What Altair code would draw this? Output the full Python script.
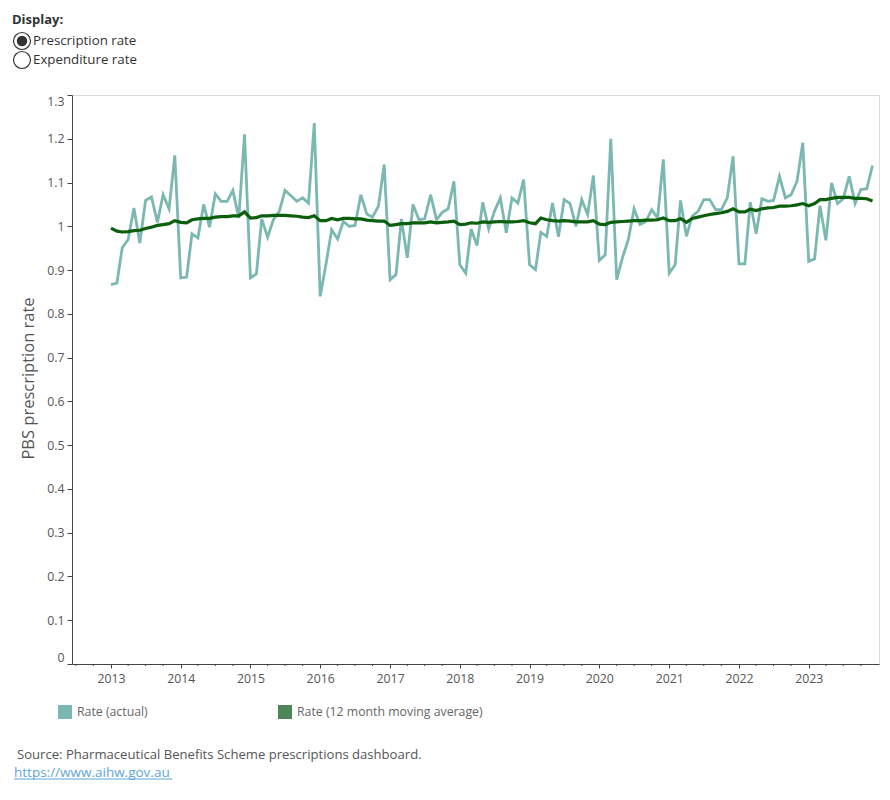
import altair as alt
import pandas as pd

# ---------------- data ----------------
years = list(range(2013, 2024))
months = [f"{y}-{m:02d}-01T00:00:00" for y in years for m in range(1, 13)]

rate_actual = [
    # 2013
    0.867, 0.870, 0.951, 0.970, 1.042, 0.962, 1.059, 1.067, 1.009, 1.072, 1.040, 1.162,
    # 2014
    0.882, 0.884, 0.983, 0.973, 1.050, 0.998, 1.074, 1.057, 1.057, 1.082, 1.019, 1.210,
    # 2015
    0.882, 0.891, 1.017, 0.975, 1.015, 1.034, 1.082, 1.070, 1.057, 1.065, 1.053, 1.236,
    # 2016
    0.840, 0.915, 0.992, 0.971, 1.011, 1.000, 1.002, 1.072, 1.028, 1.021, 1.046, 1.141,
    # 2017
    0.878, 0.890, 1.017, 0.928, 1.050, 1.015, 1.017, 1.072, 1.015, 1.032, 1.040, 1.103,
    # 2018
    0.912, 0.893, 0.994, 0.956, 1.055, 0.994, 1.034, 1.065, 0.985, 1.065, 1.053, 1.107,
    # 2019
    0.912, 0.901, 0.986, 0.977, 1.053, 0.976, 1.061, 1.052, 1.000, 1.061, 1.027, 1.116,
    # 2020
    0.922, 0.935, 1.200, 0.878, 0.928, 0.970, 1.040, 1.004, 1.011, 1.038, 1.019, 1.153,
    # 2021
    0.893, 0.912, 1.059, 0.977, 1.023, 1.034, 1.061, 1.061, 1.038, 1.038, 1.065, 1.160,
    # 2022
    0.914, 0.914, 1.055, 0.983, 1.063, 1.057, 1.059, 1.114, 1.065, 1.072, 1.103, 1.191,
    # 2023
    0.920, 0.926, 1.047, 0.968, 1.099, 1.052, 1.063, 1.114, 1.052, 1.084, 1.086, 1.139,
]

rate_ma = [
    0.996, 0.989, 0.987, 0.988, 0.990, 0.991, 0.995, 0.998, 1.002, 1.004, 1.006, 1.013,
    1.009, 1.008, 1.015, 1.017, 1.018, 1.018, 1.021, 1.022, 1.022, 1.024, 1.024, 1.033,
    1.019, 1.020, 1.024, 1.024, 1.025, 1.025, 1.025, 1.024, 1.023, 1.021, 1.020, 1.024,
    1.013, 1.013, 1.018, 1.015, 1.018, 1.018, 1.017, 1.017, 1.014, 1.013, 1.012, 1.012,
    1.002, 1.004, 1.006, 1.006, 1.008, 1.008, 1.008, 1.010, 1.008, 1.009, 1.010, 1.012,
    1.004, 1.005, 1.008, 1.007, 1.010, 1.009, 1.010, 1.011, 1.010, 1.010, 1.011, 1.013,
    1.008, 1.006, 1.019, 1.015, 1.013, 1.012, 1.013, 1.012, 1.010, 1.010, 1.010, 1.013,
    1.005, 1.004, 1.009, 1.010, 1.011, 1.012, 1.013, 1.013, 1.014, 1.014, 1.015, 1.019,
    1.013, 1.013, 1.018, 1.009, 1.018, 1.021, 1.024, 1.027, 1.029, 1.031, 1.034, 1.040,
    1.033, 1.033, 1.039, 1.036, 1.040, 1.042, 1.043, 1.046, 1.046, 1.047, 1.049, 1.052,
    1.047, 1.052, 1.061, 1.061, 1.064, 1.066, 1.066, 1.066, 1.064, 1.064, 1.063, 1.058,
]

y_ticks = [0, 0.1, 0.2, 0.3, 0.4, 0.5, 0.6, 0.7, 0.8, 0.9, 1.0, 1.1, 1.2, 1.3]
minor_ticks = ["2012-07-01T00:00:00", "2012-10-01T00:00:00"] + [
    f"{y}-{m:02d}-01T00:00:00" for y in years for m in (4, 7, 10)
]

series_labels = ["Rate (actual)", "Rate (12 month moving average)"]
display_options = ["Prescription rate", "Expenditure rate"]
source_text = "Source: Pharmaceutical Benefits Scheme prescriptions dashboard."
link_text = "https://www.aihw.gov.au"

df = pd.DataFrame({"month": months, "actual": rate_actual, "ma": rate_ma})
minor_df = pd.DataFrame({"q": minor_ticks})
one = pd.DataFrame({"d": [0]})

# ---------------- style ----------------
FONT = "Open Sans"
TEAL = "#7ab8b1"
GREEN_LINE = "#0b5e0b"
GREEN_LEG = "#4b8558"
AXIS_C = "#444444"
LABEL_C = "#555555"
W, H = 807, 569

x_scale = alt.Scale(
    domain=[alt.DateTime(year=2012, month=6, date=11),
            alt.DateTime(year=2024, month=1, date=4)],
    nice=False,
)
y_scale = alt.Scale(domain=[0, 1.3], nice=False, zero=False)

x_axis = alt.Axis(
    values=[alt.DateTime(year=y, month=1, date=1) for y in years],
    format="%Y", grid=False, tickSize=4, tickColor=AXIS_C, domainColor=AXIS_C,
    labelColor=LABEL_C, labelFont=FONT, labelFontSize=12.3, labelPadding=4,
    labelFlush=False, title=None,
)
y_axis = alt.Axis(
    values=y_ticks, format=".1~f", grid=False, tickSize=5, tickColor=AXIS_C,
    domainColor=AXIS_C, labelColor=LABEL_C, labelFont=FONT, labelFontSize=12.3,
    labelPadding=3, labelFlush=True, title="PBS prescription rate",
    titleFont=FONT, titleFontSize=16.5, titleFontWeight="normal", titleColor=LABEL_C,
    titleAngle=-90, titleX=-44, titleY=283, titleAlign="center",
    titleBaseline="middle",
)

line_actual = alt.Chart(df).mark_line(color=TEAL, strokeWidth=2.8).encode(
    x=alt.X("month:T", scale=x_scale, axis=x_axis, title=None),
    y=alt.Y("actual:Q", scale=y_scale, axis=y_axis, title="PBS prescription rate"),
)
line_ma = alt.Chart(df).mark_line(color=GREEN_LINE, strokeWidth=3.2).encode(
    x=alt.X("month:T", scale=x_scale, axis=x_axis, title=None),
    y=alt.Y("ma:Q", scale=y_scale, axis=y_axis, title="PBS prescription rate"),
)
minor = alt.Chart(minor_df).mark_rule(color=AXIS_C, strokeWidth=1).encode(
    x=alt.X("q:T", scale=x_scale, axis=x_axis, title=None),
    y=alt.value(H), y2=alt.value(H + 2),
)


def txt(s, x, y, size=13.3, color="#333333", weight="normal", align="left"):
    return alt.Chart(one).mark_text(
        text=s, font=FONT, fontSize=size, color=color, fontWeight=weight,
        align=align, baseline="middle",
    ).encode(x=alt.value(x), y=alt.value(y))


def dot(x, y, size, filled, color):
    if filled:
        m = alt.Chart(one).mark_point(shape="circle", size=size, filled=True,
                                      color=color, opacity=1)
    else:
        m = alt.Chart(one).mark_point(shape="circle", size=size, filled=False,
                                      stroke=color, strokeWidth=1.2, opacity=1,
                                      fill="white")
    return m.encode(x=alt.value(x), y=alt.value(y))


def square(x, y, color):
    return alt.Chart(one).mark_square(size=196, color=color, opacity=1).encode(
        x=alt.value(x), y=alt.value(y))


deco = [
    txt("Display:", -60, -75, size=13, weight="bold"),
    dot(-50, -54, 289, False, "#333333"),
    dot(-50, -54, 110, True, "#333333"),
    txt(display_options[0], -39, -54),
    dot(-50, -35, 289, False, "#333333"),
    txt(display_options[1], -39, -35),
    square(-7, 617, TEAL),
    txt(series_labels[0], 5, 617, size=12.3, color="#666666"),
    square(213, 617, GREEN_LEG),
    txt(series_labels[1], 225, 617, size=12.3, color="#666666"),
    txt(source_text, -55, 660, size=13.1, color="#555555"),
    txt(link_text, -58, 678, size=13.5, color="#5ea6d6"),
    alt.Chart(one).mark_rule(color="#5ea6d6", strokeWidth=1).encode(
        x=alt.value(-58), x2=alt.value(100), y=alt.value(684)),
]

chart = alt.layer(line_actual, line_ma, minor, *deco).properties(
    width=W, height=H,
    padding={"left": 72, "top": 95, "right": 11, "bottom": 136},
    autosize=alt.AutoSizeParams(type="none"),
).configure_view(strokeWidth=0).configure(font=FONT, background="white")

chart.save("out.html", embed_options={"renderer": "svg", "actions": False})
